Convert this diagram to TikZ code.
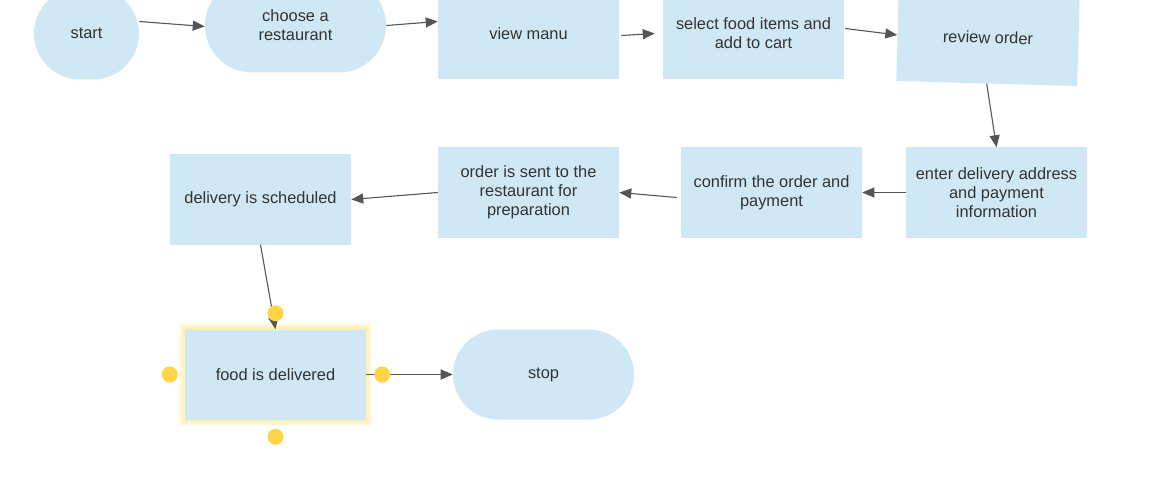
\documentclass[tikz,border=0pt]{standalone}
\usepackage{fontspec}
\setmainfont{Liberation Sans}
\usetikzlibrary{arrows.meta, shapes.misc, backgrounds}
\usepackage{xcolor}
\definecolor{boxblue}{RGB}{208,232,245}
\definecolor{linegray}{RGB}{85,85,85}
\definecolor{textgray}{RGB}{51,51,51}
\definecolor{handleyellow}{RGB}{255,212,70}
\definecolor{glowyellow}{RGB}{255,232,130}

\tikzset{
    stepbox/.style={rectangle, fill=boxblue, draw=none, text=textgray, align=center,
        minimum width=181*0.75pt, minimum height=90*0.75pt, inner sep=0pt,
        font=\fontsize{12.3}{14.3}\selectfont},
    endbox/.style={stepbox, rounded rectangle},
    flow/.style={draw=linegray, line width=0.8pt, -{Triangle[length=9pt, width=7.5pt]}, fill=linegray},
}

\begin{document}
\begin{tikzpicture}[x=0.75pt, y=-0.75pt]
        \clip (0,0) rectangle (1160,481);

        % 一段目
        \node[endbox, minimum width=105*0.75pt, minimum height=92*0.75pt] (start) at (86.5,33.5) {start};
        \node[endbox, minimum height=94*0.75pt] (choose) at (295.5,25.5) {choose a\\restaurant};
        \node[stepbox, minimum height=92*0.75pt] (view) at (528.5,33.5) {view manu};
        \node[stepbox, minimum height=92*0.75pt] (select) at (753.5,33.5) {select food items and\\add to cart};
        \node[stepbox, minimum height=92*0.75pt, rotate=-1.6] (review) at (988,37.5) {review order};

        % 二段目
        \node[stepbox] (enter) at (996.5,192.5) {enter delivery address\\and payment\\information};
        \node[stepbox] (confirm) at (771.5,192.5) {confirm the order and\\payment};
        \node[stepbox] (sent) at (528.5,192.5) {order is sent to the\\restaurant for\\preparation};
        \node[stepbox] (scheduled) at (260.5,199.5) {delivery is scheduled};

        % 三段目
        \node[stepbox] (delivered) at (275.5,374.5) {food is delivered};
        \node[endbox] (stop) at (543.5,374.5) {stop};

        % 選択中の枠の光
        \begin{scope}[on background layer]
            \fill[white] (0,0) rectangle (1160,481);
            \foreach \g in {1,...,6} {
                \fill[glowyellow, opacity=0.13] ([shift={(-\g,-\g)}]delivered.north west) rectangle ([shift={(\g,\g)}]delivered.south east);
            }
        \end{scope}

        % 矢印
        \draw[flow] ([shift={(0,-12)}]start.east) -- ([shift={(0,1)}]choose.west);
        \draw[flow] (choose.east) -- ([shift={(0,-12)}]view.west);
        \draw[flow] ([shift={(2,2)}]view.east) -- ([shift={(-8,0)}]select.west);
        \draw[flow] ([shift={(1,-5)}]select.east) -- (review.west);
        \draw[flow] (review.south) -- (enter.north);
        \draw[flow] (enter.west) -- (confirm.east);
        \draw[flow] ([shift={(-4,5)}]confirm.west) -- (sent.east);
        \draw[flow] (sent.west) -- (scheduled.east);
        \draw[flow] (scheduled.south) -- (delivered.north);
        \draw[flow] (delivered.east) -- (stop.west);

        % つまみ
        \fill[handleyellow] ([shift={(0,-16)}]delivered.north) circle (8);
        \fill[handleyellow] ([shift={(-15,0)}]delivered.west) circle (8);
        \fill[handleyellow] ([shift={(16,0)}]delivered.east) circle (8);
        \fill[handleyellow] ([shift={(0,17)}]delivered.south) circle (8);
    \end{tikzpicture}
\end{document}
